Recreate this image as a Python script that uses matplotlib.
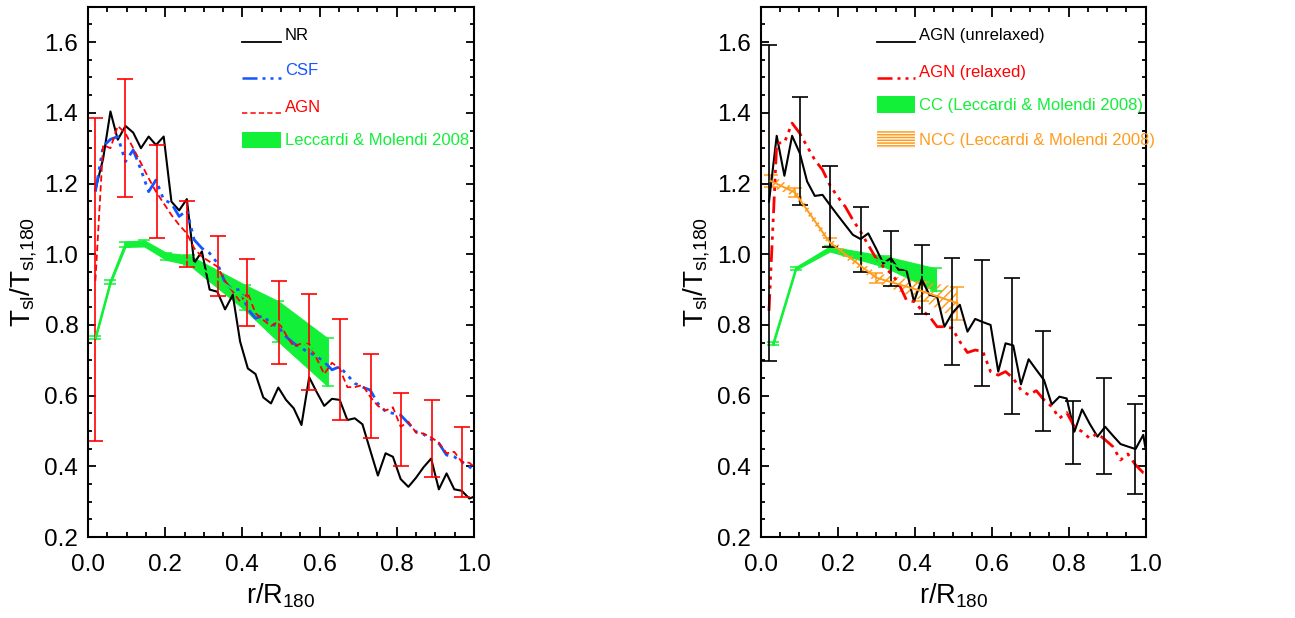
import numpy as np
import matplotlib
matplotlib.use('Agg')
import matplotlib.pyplot as plt
from matplotlib.patches import Rectangle

plt.rcParams['font.family'] = ['Liberation Sans', 'DejaVu Sans']
plt.rcParams['mathtext.fontset'] = 'custom'
plt.rcParams['mathtext.rm'] = 'Liberation Sans'
plt.rcParams['mathtext.it'] = 'Liberation Sans:italic'
plt.rcParams['hatch.linewidth'] = 1.1

VERT = '#12f038'
ORANGE = '#ff9c1e'
BLEU = '#1555ff'

# ---- panneau gauche : NR / CSF / AGN
r_g = [0.019, 0.039, 0.058, 0.077, 0.097, 0.117, 0.137, 0.157, 0.176, 0.196,
       0.216, 0.236, 0.256, 0.275, 0.295, 0.315, 0.335, 0.355, 0.375, 0.394,
       0.414, 0.434, 0.454, 0.474, 0.493, 0.513, 0.533, 0.553, 0.573, 0.592,
       0.612, 0.632, 0.652, 0.672, 0.691, 0.711, 0.731, 0.751, 0.771, 0.790,
       0.810, 0.830, 0.850, 0.869, 0.889, 0.909, 0.929, 0.949, 0.968, 0.988, 1.0]
nr = [1.182, 1.270, 1.404, 1.324, 1.363, 1.344, 1.300, 1.333, 1.309, 1.333,
      1.149, 1.124, 1.156, 0.975, 1.008, 0.900, 0.894, 0.844, 0.885, 0.753,
      0.677, 0.661, 0.595, 0.578, 0.623, 0.588, 0.564, 0.517, 0.652, 0.611,
      0.571, 0.591, 0.588, 0.531, 0.536, 0.519, 0.446, 0.374, 0.437, 0.427,
      0.364, 0.342, 0.368, 0.397, 0.422, 0.335, 0.380, 0.335, 0.331, 0.309, 0.314]
csf = [1.177, 1.305, 1.325, 1.333, 1.262, 1.295, 1.239, 1.177, 1.210, 1.154,
       1.144, 1.107, 1.124, 1.041, 1.017, 1.003, 0.975, 0.920, 0.899, 0.900,
       0.845, 0.819, 0.826, 0.803, 0.795, 0.767, 0.748, 0.734, 0.722, 0.712,
       0.696, 0.673, 0.682, 0.658, 0.635, 0.624, 0.616, 0.578, 0.555, 0.550,
       0.545, 0.522, 0.498, 0.491, 0.476, 0.465, 0.432, 0.427, 0.413, 0.399, 0.388]
agn = [0.925, 1.309, 1.300, 1.363, 1.342, 1.300, 1.258, 1.215, 1.177, 1.144,
       1.111, 1.083, 1.059, 1.017, 0.993, 0.979, 0.965, 0.925, 0.894, 0.866,
       0.890, 0.833, 0.814, 0.797, 0.810, 0.772, 0.739, 0.748, 0.746, 0.706,
       0.661, 0.693, 0.677, 0.624, 0.624, 0.630, 0.597, 0.571, 0.558, 0.567,
       0.512, 0.526, 0.495, 0.493, 0.482, 0.467, 0.437, 0.441, 0.413, 0.410, 0.399]

# barres d'erreur AGN (bas / haut)
r_err_g = [0.019, 0.097, 0.178, 0.256, 0.336, 0.413, 0.494, 0.573, 0.653, 0.733, 0.812, 0.892, 0.970]
err_bas_g = [0.472, 1.163, 1.047, 0.963, 0.883, 0.797, 0.690, 0.616, 0.531, 0.481, 0.401, 0.371, 0.312]
err_haut_g = [1.385, 1.497, 1.309, 1.151, 1.053, 0.986, 0.925, 0.887, 0.816, 0.717, 0.608, 0.588, 0.512]

# Leccardi & Molendi 2008
r_lm = [0.019, 0.058, 0.097, 0.146, 0.203, 0.262, 0.407, 0.493, 0.621]
lm_bas = [0.759, 0.917, 1.021, 1.022, 0.984, 0.970, 0.842, 0.753, 0.627]
lm_haut = [0.768, 0.926, 1.036, 1.039, 1.004, 0.997, 0.913, 0.867, 0.762]

# ---- panneau droit : AGN relaxed / unrelaxed
r_d = [0.021, 0.041, 0.061, 0.081, 0.101, 0.120, 0.140, 0.160, 0.179, 0.199,
       0.219, 0.239, 0.259, 0.279, 0.299, 0.318, 0.338, 0.358, 0.378, 0.398,
       0.418, 0.438, 0.458, 0.477, 0.497, 0.517, 0.537, 0.557, 0.577, 0.597,
       0.617, 0.636, 0.656, 0.676, 0.696, 0.716, 0.736, 0.756, 0.776, 0.795,
       0.815, 0.835, 0.855, 0.875, 0.895, 0.915, 0.935, 0.954, 0.974, 0.994, 1.0]
unrelax = [1.149, 1.335, 1.222, 1.335, 1.286, 1.206, 1.165, 1.168, 1.140, 1.111,
           1.083, 1.055, 1.043, 1.059, 1.017, 0.974, 0.989, 0.956, 0.956, 0.866,
           0.929, 0.885, 0.880, 0.795, 0.833, 0.857, 0.781, 0.817, 0.808, 0.800,
           0.668, 0.748, 0.742, 0.632, 0.703, 0.673, 0.644, 0.575, 0.597, 0.592,
           0.498, 0.561, 0.520, 0.484, 0.512, 0.487, 0.463, 0.456, 0.449, 0.489, 0.450]
relax = [0.840, 1.314, 1.316, 1.371, 1.342, 1.305, 1.267, 1.239, 1.196, 1.163,
         1.135, 1.097, 1.064, 1.026, 0.989, 0.965, 0.946, 0.918, 0.871, 0.866,
         0.842, 0.824, 0.795, 0.795, 0.791, 0.753, 0.722, 0.729, 0.725, 0.668,
         0.658, 0.668, 0.649, 0.616, 0.602, 0.614, 0.588, 0.569, 0.536, 0.552,
         0.512, 0.498, 0.479, 0.493, 0.475, 0.456, 0.418, 0.435, 0.404, 0.382, 0.380]

r_err_d = [0.021, 0.101, 0.179, 0.259, 0.338, 0.418, 0.496, 0.575, 0.654, 0.734, 0.812, 0.893, 0.972]
err_bas_d = [0.698, 1.140, 1.020, 0.951, 0.911, 0.831, 0.687, 0.627, 0.547, 0.500, 0.408, 0.377, 0.322]
err_haut_d = [1.592, 1.446, 1.251, 1.133, 1.067, 1.026, 0.989, 0.984, 0.932, 0.784, 0.586, 0.651, 0.576]

# CC et NCC (Leccardi & Molendi 2008)
r_cc = [0.032, 0.091, 0.179, 0.320, 0.455]
cc_bas = [0.743, 0.956, 1.008, 0.965, 0.895]
cc_haut = [0.753, 0.964, 1.022, 0.995, 0.960]
r_ncc = [0.025, 0.088, 0.179, 0.300, 0.420, 0.511]
ncc_bas = [1.190, 1.163, 1.021, 0.920, 0.868, 0.815]
ncc_haut = [1.225, 1.187, 1.046, 0.947, 0.922, 0.908]


def cadre(ax):
    ax.set_xlim(0, 1)
    ax.set_ylim(0.2, 1.7)
    ax.set_xticks(np.arange(0, 1.01, 0.2))
    ax.set_xticks(np.arange(0, 1.01, 0.05), minor=True)
    ax.set_yticks(np.arange(0.2, 1.61, 0.2))
    ax.set_yticks(np.arange(0.2, 1.71, 0.05), minor=True)
    ax.xaxis.set_major_formatter(plt.FormatStrFormatter('%.1f'))
    ax.yaxis.set_major_formatter(plt.FormatStrFormatter('%.1f'))
    ax.tick_params(which='both', direction='in', top=True, right=True, width=1.3, labelsize=17.5)
    ax.tick_params(axis='x', which='major', length=7.5, pad=12)
    ax.tick_params(axis='x', which='minor', length=3.8)
    ax.tick_params(axis='y', which='major', length=5.5, pad=7)
    ax.tick_params(axis='y', which='minor', length=2.8)
    for s in ax.spines.values():
        s.set_linewidth(1.5)
    ax.set_xlabel(r'$\mathrm{r/R_{180}}$', fontsize=19.5, labelpad=4)
    ax.set_ylabel(r'$\mathrm{T_{sl}/T_{sl{,}180}}$', fontsize=20, labelpad=4)


def bande(ax, x, bas, haut, couleur, hachure=None, cap=4):
    bas = np.array(bas)
    haut = np.array(haut)
    mil = (bas + haut) / 2
    if hachure:
        ax.fill_between(x, bas, haut, facecolor='none', edgecolor=couleur, hatch=hachure, linewidth=0)
    else:
        ax.fill_between(x, bas, haut, facecolor=couleur, edgecolor=couleur, linewidth=0.8)
    ax.errorbar(x, mil, yerr=[mil - bas, haut - mil], fmt='-', color=couleur, lw=1.4,
                capsize=cap, capthick=1.1, elinewidth=1.1)


def barres(ax, x, bas, haut, couleur):
    bas = np.array(bas)
    haut = np.array(haut)
    mil = (bas + haut) / 2
    ax.errorbar(x, mil, yerr=[mil - bas, haut - mil], fmt='none', ecolor=couleur,
                capsize=6, capthick=1.2, elinewidth=1.2)


fig = plt.figure(figsize=(12.95, 6.18), dpi=100)
ax1 = fig.add_axes([0.068, 0.131, 0.298, 0.858])
ax2 = fig.add_axes([0.5876, 0.131, 0.297, 0.858])

# gauche
bande(ax1, r_lm, lm_bas, lm_haut, VERT)
ax1.plot(r_g, nr, color='black', lw=1.5)
ax1.plot(r_g, csf, color=BLEU, lw=2.0, dashes=(6, 2, 1.2, 2, 1.2, 2, 1.2, 2))
ax1.plot(r_g, agn, color='red', lw=1.3, dashes=(3.5, 2))
barres(ax1, r_err_g, err_bas_g, err_haut_g, 'red')
cadre(ax1)

# legende gauche
tr = ax1.transAxes
ax1.plot([0.399, 0.50], [0.934, 0.934], color='black', lw=1.3, transform=tr)
ax1.plot([0.399, 0.50], [0.866, 0.866], color=BLEU, lw=1.8, dashes=(6, 2, 1.2, 2, 1.2, 2, 1.2, 2), transform=tr)
ax1.plot([0.399, 0.50], [0.800, 0.800], color='red', lw=1.1, dashes=(3.5, 2), transform=tr)
ax1.add_patch(Rectangle((0.399, 0.734), 0.101, 0.030, transform=tr, color=VERT, lw=0))
for y, txt, c in [(0.945, 'NR', 'black'), (0.879, 'CSF', BLEU), (0.811, 'AGN', 'red'),
                  (0.747, 'Leccardi & Molendi 2008', VERT)]:
    ax1.text(0.51, y, txt, color=c, fontsize=12, va='center', transform=tr)

# droite
bande(ax2, r_cc, cc_bas, cc_haut, VERT)
bande(ax2, r_ncc, ncc_bas, ncc_haut, ORANGE, hachure='////', cap=5)
ax2.plot(r_d, unrelax, color='black', lw=1.5)
ax2.plot(r_d, relax, color='red', lw=2.0, dashes=(6, 2, 1.2, 2, 1.2, 2, 1.2, 2))
barres(ax2, r_err_d, err_bas_d, err_haut_d, 'black')
cadre(ax2)

tr = ax2.transAxes
ax2.plot([0.301, 0.40], [0.934, 0.934], color='black', lw=1.3, transform=tr)
ax2.plot([0.301, 0.40], [0.866, 0.866], color='red', lw=1.8, dashes=(6, 2, 1.2, 2, 1.2, 2, 1.2, 2), transform=tr)
ax2.add_patch(Rectangle((0.301, 0.800), 0.099, 0.032, transform=tr, color=VERT, lw=0))
ax2.add_patch(Rectangle((0.301, 0.734), 0.099, 0.032, transform=tr, facecolor='none',
                        edgecolor=ORANGE, hatch='------', lw=0))
for y, txt, c in [(0.945, 'AGN (unrelaxed)', 'black'), (0.877, 'AGN (relaxed)', 'red'),
                  (0.813, 'CC (Leccardi & Molendi 2008)', VERT),
                  (0.747, 'NCC (Leccardi & Molendi 2008)', ORANGE)]:
    ax2.text(0.41, y, txt, color=c, fontsize=12, va='center', transform=tr, clip_on=False)

fig.savefig('out.png', dpi=100)
